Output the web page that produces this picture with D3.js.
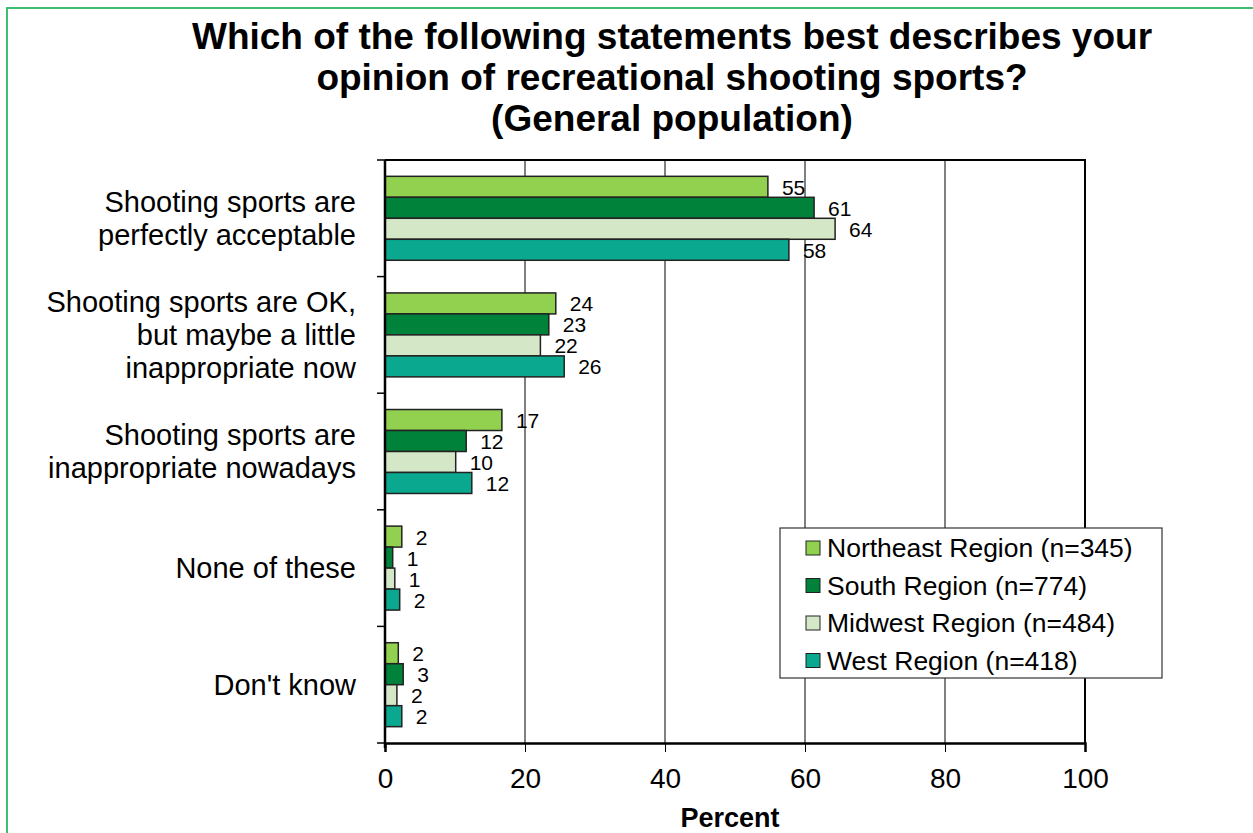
<!DOCTYPE html>
<html>
<head>
<meta charset="utf-8">
<script src="https://cdn.jsdelivr.net/npm/d3@7"></script>
<style>
  body { margin: 0; background: #fff; }
  text { font-family: "Liberation Sans", Arial, sans-serif; fill: #000; }
</style>
</head>
<body>
<svg id="chart" width="1253" height="833"></svg>
<script>
// chart data
let categories = [
  ["Shooting sports are", "perfectly acceptable"],
  ["Shooting sports are OK,", "but maybe a little", "inappropriate now"],
  ["Shooting sports are", "inappropriate nowadays"],
  ["None of these"],
  ["Don't know"]
];
let seriesNames = ["Northeast Region (n=345)", "South Region (n=774)", "Midwest Region (n=484)", "West Region (n=418)"];
let northeast = [54.7, 24.4, 16.7, 2.4, 1.9];
let south = [61.3, 23.4, 11.6, 1.1, 2.6];
let midwest = [64.3, 22.2, 10.1, 1.4, 1.7];
let west = [57.7, 25.6, 12.4, 2.1, 2.4];
let xTicks = [0, 20, 40, 60, 80, 100];
let colors = ["#92d050", "#00823b", "#d4e8c8", "#0aa88e"];

let series = [northeast, south, midwest, west];

let svg = d3.select("#chart");
let plotLeft = 385, plotRight = 1085, plotTop = 160, plotBottom = 743; // plot area

// outer green frame
svg.append("rect")
  .attr("x", 7).attr("y", 8)
  .attr("width", 1260).attr("height", 840)
  .attr("fill", "none")
  .attr("stroke", "#3cc070")
  .attr("stroke-width", 2);

// title
let titleLines = ["Which of the following statements best describes your",
                  "opinion of recreational shooting sports?",
                  "(General population)"];
svg.append("g").selectAll("text")
  .data(titleLines)
  .enter()
  .append("text")
  .attr("x", 672)
  .attr("y", (d, i) => 49 + i * 41)
  .attr("text-anchor", "middle")
  .attr("font-size", 37)
  .attr("font-weight", "bold")
  .text(d => d);

let xScale = d3.scaleLinear().domain([0, 100]).range([plotLeft, plotRight]);
let yScale = d3.scaleBand()
  .domain(d3.range(categories.length))
  .range([plotTop, plotBottom])
  .paddingInner(0.28)
  .paddingOuter(0.14);
let subScale = d3.scaleBand()
  .domain(d3.range(series.length))
  .range([0, yScale.bandwidth()]);

let g = svg.append("g");

// vertical grid lines
g.selectAll(".grid")
  .data(xTicks.slice(1, -1))
  .enter()
  .append("line")
  .attr("x1", d => xScale(d)).attr("x2", d => xScale(d))
  .attr("y1", plotTop).attr("y2", plotBottom)
  .attr("stroke", "#000")
  .attr("stroke-width", 1);

// plot frame top/right
g.append("path")
  .attr("d", "M" + plotLeft + "," + plotTop + "H" + plotRight + "V" + plotBottom)
  .attr("fill", "none")
  .attr("stroke", "#000")
  .attr("stroke-width", 2);

// bars
series.forEach((vals, s) => {
  g.selectAll(".bar" + s)
    .data(vals)
    .enter()
    .append("rect")
    .attr("x", xScale(0))
    .attr("y", (d, i) => yScale(i) + subScale(s))
    .attr("width", d => xScale(d) - xScale(0))
    .attr("height", subScale.bandwidth())
    .attr("fill", colors[s])
    .attr("stroke", "#222")
    .attr("stroke-width", 1.5);

  g.selectAll(".lab" + s)
    .data(vals)
    .enter()
    .append("text")
    .attr("x", d => xScale(d) + 14)
    .attr("y", (d, i) => yScale(i) + subScale(s) + subScale.bandwidth() / 2 + 8)
    .attr("font-size", 21)
    .text(d => Math.round(d));
});

// x axis
let xAxis = d3.axisBottom(xScale).tickValues(xTicks).tickSize(9).tickPadding(16).tickFormat(d3.format("d"));
let xg = g.append("g")
  .attr("transform", "translate(0," + plotBottom + ")")
  .call(xAxis);
xg.select(".domain").attr("stroke-width", 2.5);
xg.selectAll("text").attr("font-size", 28).attr("font-family", "Liberation Sans, Arial, sans-serif");

// y axis
let yBounds = d3.range(categories.length + 1).map(i => plotTop + i * (plotBottom - plotTop) / categories.length);
g.append("line")
  .attr("x1", plotLeft).attr("x2", plotLeft)
  .attr("y1", plotTop).attr("y2", plotBottom + 5)
  .attr("stroke", "#000").attr("stroke-width", 2.5);
g.selectAll(".ytick")
  .data(yBounds)
  .enter()
  .append("line")
  .attr("x1", plotLeft - 8).attr("x2", plotLeft)
  .attr("y1", d => d).attr("y2", d => d)
  .attr("stroke", "#000").attr("stroke-width", 1.5);

// category labels
categories.forEach((lines, i) => {
  let cy = yScale(i) + yScale.bandwidth() / 2;
  let lh = 33;
  g.append("text")
    .attr("text-anchor", "end")
    .attr("font-size", 29)
    .selectAll("tspan")
    .data(lines)
    .enter()
    .append("tspan")
    .attr("x", 356)
    .attr("y", (d, j) => cy + (j - (lines.length - 1) / 2) * lh + 10)
    .text(d => d);
});

// x axis title
svg.append("text")
  .attr("x", 730)
  .attr("y", 827)
  .attr("text-anchor", "middle")
  .attr("font-size", 27)
  .attr("font-weight", "bold")
  .text("Percent");

// legend
let legend = svg.append("g");
legend.append("rect")
  .attr("x", 780).attr("y", 528)
  .attr("width", 382).attr("height", 150)
  .attr("fill", "#fff")
  .attr("stroke", "#333")
  .attr("stroke-width", 1.2);
seriesNames.forEach((name, i) => {
  let ly = 548 + i * 37.5;
  legend.append("rect")
    .attr("x", 806).attr("y", ly - 7)
    .attr("width", 14).attr("height", 14)
    .attr("fill", colors[i])
    .attr("stroke", "#222")
    .attr("stroke-width", 1);
  legend.append("text")
    .attr("x", 827).attr("y", ly + 9)
    .attr("font-size", 26.5)
    .text(name);
});
</script>
</body>
</html>
